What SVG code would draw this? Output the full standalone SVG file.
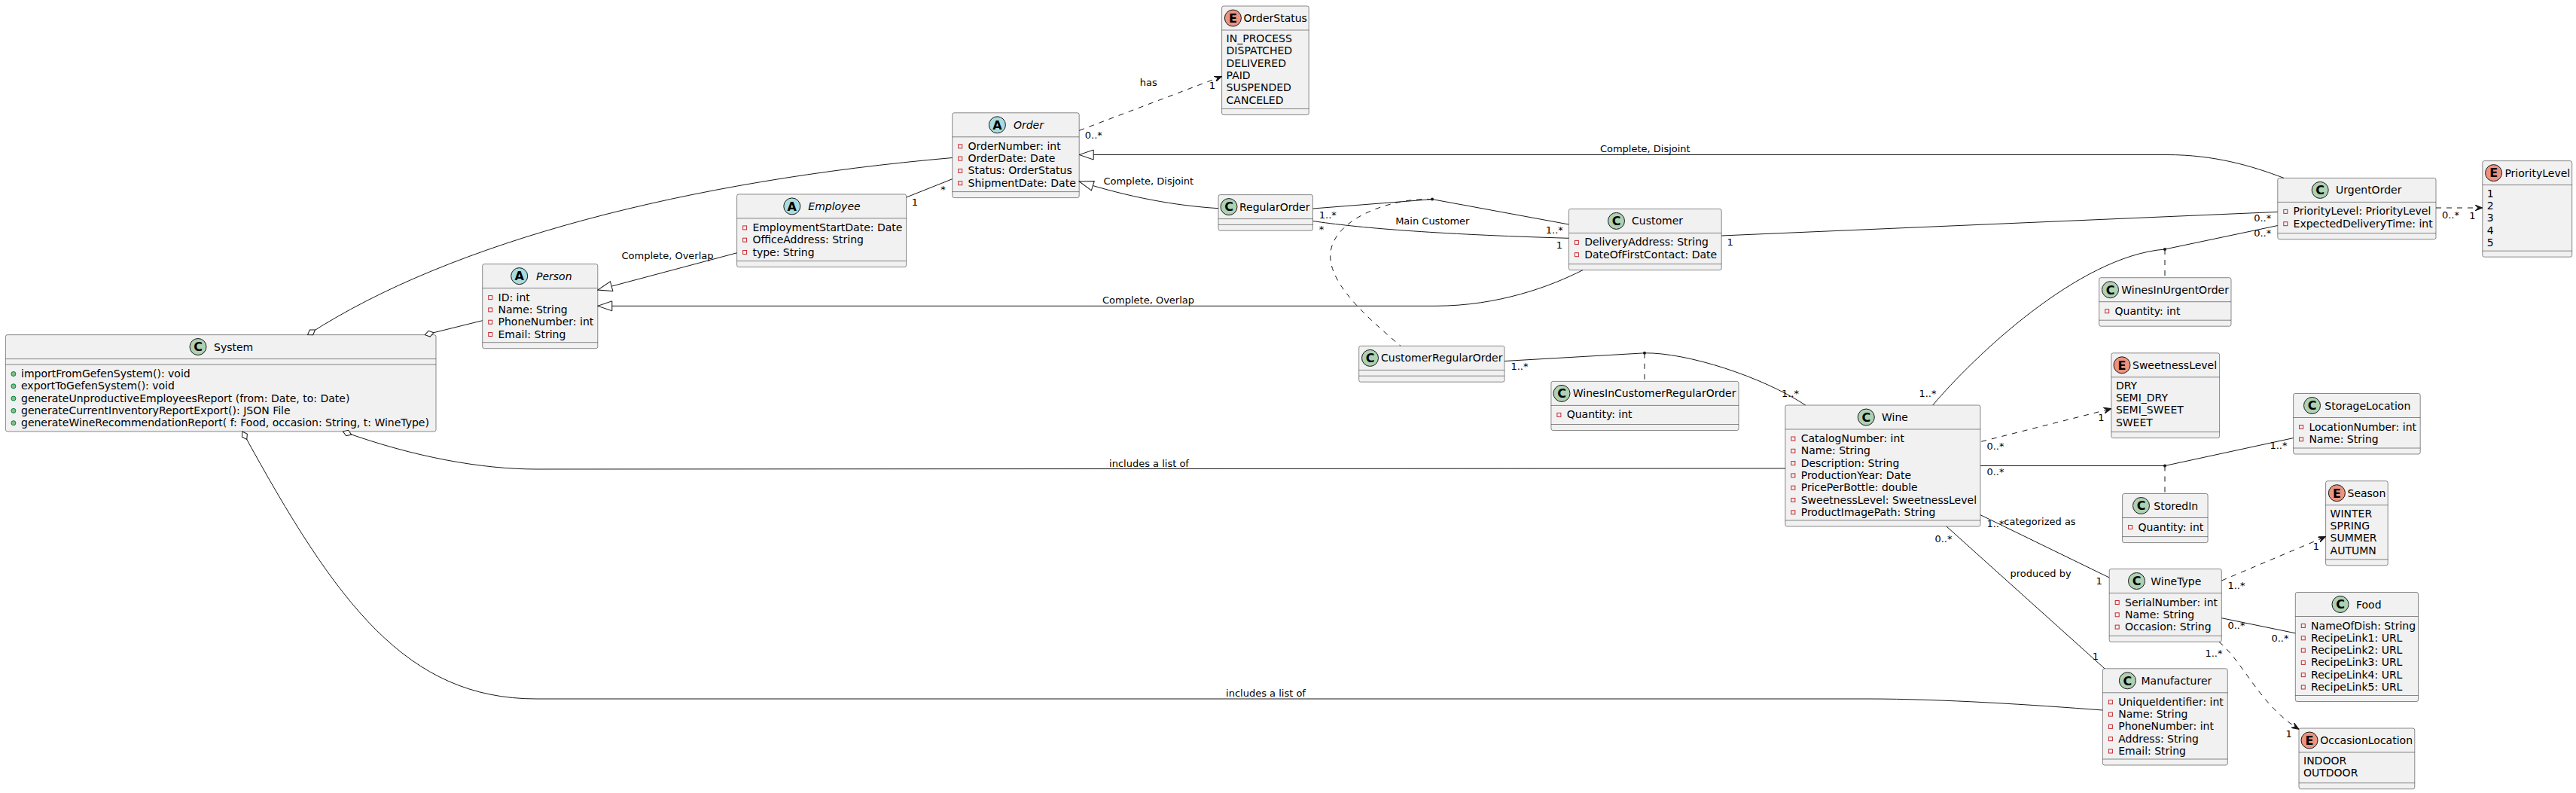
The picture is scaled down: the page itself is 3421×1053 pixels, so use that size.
<svg xmlns="http://www.w3.org/2000/svg" xmlns:xlink="http://www.w3.org/1999/xlink" width="3421" height="1053" viewBox="0 0 3421 1053">
<style>
.box{fill:#F1F1F1;stroke:#181818;stroke-width:0.5}
.sep{stroke:#181818;stroke-width:0.5}
.cC{fill:#ADD1B2;stroke:#181818;stroke-width:1}
.cA{fill:#A9DCDF;stroke:#181818;stroke-width:1}
.cE{fill:#EB937F;stroke:#181818;stroke-width:1}
.lt{font-family:"DejaVu Sans",sans-serif;font-size:16px;font-weight:bold;text-anchor:middle;fill:#000}
.t{font-family:"DejaVu Sans",sans-serif;font-size:14px;fill:#000}
.ti{font-style:italic}
.lb{font-family:"DejaVu Sans",sans-serif;font-size:13px;fill:#000;text-anchor:middle}
.pv{fill:none;stroke:#C82930;stroke-width:1}
.pb{fill:#84BE84;stroke:#038048;stroke-width:1}
.e{fill:none;stroke:#181818;stroke-width:1}
.d{stroke-dasharray:7,7}
.dot{fill:#181818}
</style>
<defs>
<rect id="pv" class="pv" width="5" height="5"/>
<circle id="pb" class="pb" r="3"/>
<marker id="arr" viewBox="0 0 10 8" refX="10" refY="4" markerWidth="10" markerHeight="8" markerUnits="userSpaceOnUse" orient="auto"><path d="M0,0 L10,4 L0,8 L4,4 Z" fill="#181818" stroke="#181818" stroke-width="1"/></marker>
<marker id="ext" viewBox="-1 -1 21 15" refX="19" refY="6.5" markerWidth="21" markerHeight="15" markerUnits="userSpaceOnUse" orient="auto"><path d="M0,0 L19,6.5 L0,13 Z" fill="#FFFFFF" stroke="#181818" stroke-width="1"/></marker>
<marker id="agg" viewBox="-1 -1 14 10" refX="0" refY="4" markerWidth="14" markerHeight="10" markerUnits="userSpaceOnUse" orient="auto"><path d="M0,4 L6,0 L12,4 L6,8 Z" fill="#FFFFFF" stroke="#181818" stroke-width="1"/></marker>
</defs>
<rect x="0" y="0" width="3421" height="1053" fill="#FFFFFF"/>

<g id="nodes">
<g id="System">
<rect class="box" x="7.4" y="444.6" width="571.6" height="128.4" rx="2.5"/>
<circle class="cC" cx="263" cy="460.5" r="11"/><text class="lt" x="263" y="466.3">C</text>
<text class="t" x="284" y="466">System</text>
<line class="sep" x1="7.4" y1="476.6" x2="579" y2="476.6"/>
<line class="sep" x1="7.4" y1="484.1" x2="579" y2="484.1"/>
<use href="#pb" x="17.9" y="496.5"/><text class="t" x="28" y="501">importFromGefenSystem(): void</text>
<use href="#pb" x="17.9" y="512.8"/><text class="t" x="28" y="517.3">exportToGefenSystem(): void</text>
<use href="#pb" x="17.9" y="529.1"/><text class="t" x="28" y="533.6">generateUnproductiveEmployeesReport (from: Date, to: Date)</text>
<use href="#pb" x="17.9" y="545.4"/><text class="t" x="28" y="549.9">generateCurrentInventoryReportExport(): JSON File</text>
<use href="#pb" x="17.9" y="561.7"/><text class="t" x="28" y="566.2">generateWineRecommendationReport( f: Food, occasion: String, t: WineType)</text>
</g>

<g id="Person">
<rect class="box" x="640.7" y="350.6" width="153.1" height="112.1" rx="2.5"/>
<circle class="cA" cx="689.7" cy="366.6" r="11"/><text class="lt" x="689.7" y="372.4">A</text>
<text class="t ti" x="712" y="371.6">Person</text>
<line class="sep" x1="640.7" y1="382.6" x2="793.8" y2="382.6"/>
<use href="#pv" x="648.7" y="392.6"/><text class="t" x="661.5" y="399.6">ID: int</text>
<use href="#pv" x="648.7" y="408.9"/><text class="t" x="661.5" y="415.9">Name: String</text>
<use href="#pv" x="648.7" y="425.2"/><text class="t" x="661.5" y="432.2">PhoneNumber: int</text>
<use href="#pv" x="648.7" y="441.5"/><text class="t" x="661.5" y="448.5">Email: String</text>
<line class="sep" x1="640.7" y1="454.7" x2="793.8" y2="454.7"/>
</g>

<g id="Employee">
<rect class="box" x="978.6" y="257.9" width="225" height="96.7" rx="2.5"/>
<circle class="cA" cx="1051.8" cy="273.9" r="11"/><text class="lt" x="1051.8" y="279.7">A</text>
<text class="t ti" x="1073.3" y="278.9">Employee</text>
<line class="sep" x1="978.6" y1="289.9" x2="1203.6" y2="289.9"/>
<use href="#pv" x="986.6" y="299.9"/><text class="t" x="999.4" y="306.9">EmploymentStartDate: Date</text>
<use href="#pv" x="986.6" y="316.2"/><text class="t" x="999.4" y="323.2">OfficeAddress: String</text>
<use href="#pv" x="986.6" y="332.5"/><text class="t" x="999.4" y="339.5">type: String</text>
<line class="sep" x1="978.6" y1="346.6" x2="1203.6" y2="346.6"/>
</g>

<g id="Order">
<rect class="box" x="1264.7" y="149.8" width="168.5" height="112.8" rx="2.5"/>
<circle class="cA" cx="1324.4" cy="165.8" r="11"/><text class="lt" x="1324.4" y="171.6">A</text>
<text class="t ti" x="1345.9" y="170.8">Order</text>
<line class="sep" x1="1264.7" y1="181.8" x2="1433.2" y2="181.8"/>
<use href="#pv" x="1272.7" y="191.8"/><text class="t" x="1285.5" y="198.8">OrderNumber: int</text>
<use href="#pv" x="1272.7" y="208.1"/><text class="t" x="1285.5" y="215.1">OrderDate: Date</text>
<use href="#pv" x="1272.7" y="224.4"/><text class="t" x="1285.5" y="231.4">Status: OrderStatus</text>
<use href="#pv" x="1272.7" y="240.7"/><text class="t" x="1285.5" y="247.7">ShipmentDate: Date</text>
<line class="sep" x1="1264.7" y1="254.6" x2="1433.2" y2="254.6"/>
</g>

<g id="OrderStatus">
<rect class="box" x="1622.6" y="8" width="115.6" height="144.5" rx="2.5"/>
<circle class="cE" cx="1637.4" cy="24" r="11"/><text class="lt" x="1637.4" y="29.8">E</text>
<text class="t" x="1651.5" y="29">OrderStatus</text>
<line class="sep" x1="1622.6" y1="40" x2="1738.2" y2="40"/>
<text class="t" x="1628.6" y="56">IN_PROCESS</text>
<text class="t" x="1628.6" y="72.3">DISPATCHED</text>
<text class="t" x="1628.6" y="88.6">DELIVERED</text>
<text class="t" x="1628.6" y="104.9">PAID</text>
<text class="t" x="1628.6" y="121.2">SUSPENDED</text>
<text class="t" x="1628.6" y="137.5">CANCELED</text>
<line class="sep" x1="1622.6" y1="144.5" x2="1738.2" y2="144.5"/>
</g>

<g id="RegularOrder">
<rect class="box" x="1618" y="258.6" width="125.5" height="47.6" rx="2.5"/>
<circle class="cC" cx="1632" cy="274.6" r="11"/><text class="lt" x="1632" y="280.4">C</text>
<text class="t" x="1646" y="279.6">RegularOrder</text>
<line class="sep" x1="1618" y1="290.6" x2="1743.5" y2="290.6"/>
<line class="sep" x1="1618" y1="298.4" x2="1743.5" y2="298.4"/>
</g>

<g id="CustomerRegularOrder">
<rect class="box" x="1804.7" y="459.4" width="193.3" height="47.8" rx="2.5"/>
<circle class="cC" cx="1819.5" cy="475.4" r="11"/><text class="lt" x="1819.5" y="481.2">C</text>
<text class="t" x="1834" y="480.4">CustomerRegularOrder</text>
<line class="sep" x1="1804.7" y1="491.4" x2="1998" y2="491.4"/>
<line class="sep" x1="1804.7" y1="499.2" x2="1998" y2="499.2"/>
</g>

<g id="Customer">
<rect class="box" x="2083.4" y="277.4" width="202.8" height="81.2" rx="2.5"/>
<circle class="cC" cx="2146.5" cy="293.4" r="11"/><text class="lt" x="2146.5" y="299.2">C</text>
<text class="t" x="2167" y="298.4">Customer</text>
<line class="sep" x1="2083.4" y1="309.4" x2="2286.2" y2="309.4"/>
<use href="#pv" x="2091.4" y="319.4"/><text class="t" x="2104.2" y="326.4">DeliveryAddress: String</text>
<use href="#pv" x="2091.4" y="335.7"/><text class="t" x="2104.2" y="342.7">DateOfFirstContact: Date</text>
<line class="sep" x1="2083.4" y1="350.6" x2="2286.2" y2="350.6"/>
</g>

<g id="WinesInCustomerRegularOrder">
<rect class="box" x="2059.9" y="506.4" width="249.1" height="65.1" rx="2.5"/>
<circle class="cC" cx="2074" cy="522.4" r="11"/><text class="lt" x="2074" y="528.2">C</text>
<text class="t" x="2088.8" y="527.4">WinesInCustomerRegularOrder</text>
<line class="sep" x1="2059.9" y1="538.4" x2="2309" y2="538.4"/>
<use href="#pv" x="2067.9" y="548.4"/><text class="t" x="2080.7" y="555.4">Quantity: int</text>
<line class="sep" x1="2059.9" y1="563.5" x2="2309" y2="563.5"/>
</g>

<g id="Wine">
<rect class="box" x="2370.9" y="538" width="259.1" height="161" rx="2.5"/>
<circle class="cC" cx="2478.3" cy="554" r="11"/><text class="lt" x="2478.3" y="559.8">C</text>
<text class="t" x="2499" y="559">Wine</text>
<line class="sep" x1="2370.9" y1="570" x2="2630" y2="570"/>
<use href="#pv" x="2378.9" y="580"/><text class="t" x="2391.7" y="587">CatalogNumber: int</text>
<use href="#pv" x="2378.9" y="596.3"/><text class="t" x="2391.7" y="603.3">Name: String</text>
<use href="#pv" x="2378.9" y="612.6"/><text class="t" x="2391.7" y="619.6">Description: String</text>
<use href="#pv" x="2378.9" y="628.9"/><text class="t" x="2391.7" y="635.9">ProductionYear: Date</text>
<use href="#pv" x="2378.9" y="645.2"/><text class="t" x="2391.7" y="652.2">PricePerBottle: double</text>
<use href="#pv" x="2378.9" y="661.5"/><text class="t" x="2391.7" y="668.5">SweetnessLevel: SweetnessLevel</text>
<use href="#pv" x="2378.9" y="677.8"/><text class="t" x="2391.7" y="684.8">ProductImagePath: String</text>
<line class="sep" x1="2370.9" y1="691" x2="2630" y2="691"/>
</g>

<g id="UrgentOrder">
<rect class="box" x="3024.8" y="236.4" width="210.2" height="81.3" rx="2.5"/>
<circle class="cC" cx="3081.2" cy="252.4" r="11"/><text class="lt" x="3081.2" y="258.2">C</text>
<text class="t" x="3102" y="257.4">UrgentOrder</text>
<line class="sep" x1="3024.8" y1="268.4" x2="3235" y2="268.4"/>
<use href="#pv" x="3032.8" y="278.4"/><text class="t" x="3045.6" y="285.4">PriorityLevel: PriorityLevel</text>
<use href="#pv" x="3032.8" y="294.7"/><text class="t" x="3045.6" y="301.7">ExpectedDeliveryTime: int</text>
<line class="sep" x1="3024.8" y1="309.7" x2="3235" y2="309.7"/>
</g>

<g id="PriorityLevel">
<rect class="box" x="3296.8" y="213.6" width="118.9" height="127.6" rx="2.5"/>
<circle class="cE" cx="3311.6" cy="229.6" r="11"/><text class="lt" x="3311.6" y="235.4">E</text>
<text class="t" x="3326.4" y="234.6">PriorityLevel</text>
<line class="sep" x1="3296.8" y1="245.6" x2="3415.7" y2="245.6"/>
<text class="t" x="3302.8" y="261.6">1</text>
<text class="t" x="3302.8" y="277.9">2</text>
<text class="t" x="3302.8" y="294.2">3</text>
<text class="t" x="3302.8" y="310.5">4</text>
<text class="t" x="3302.8" y="326.8">5</text>
<line class="sep" x1="3296.8" y1="333.2" x2="3415.7" y2="333.2"/>
</g>

<g id="WinesInUrgentOrder">
<rect class="box" x="2787.7" y="368.7" width="175.3" height="64.5" rx="2.5"/>
<circle class="cC" cx="2802.5" cy="384.7" r="11"/><text class="lt" x="2802.5" y="390.5">C</text>
<text class="t" x="2817.3" y="389.7">WinesInUrgentOrder</text>
<line class="sep" x1="2787.7" y1="400.7" x2="2963" y2="400.7"/>
<use href="#pv" x="2795.7" y="410.7"/><text class="t" x="2808.5" y="417.7">Quantity: int</text>
<line class="sep" x1="2787.7" y1="425.2" x2="2963" y2="425.2"/>
</g>

<g id="SweetnessLevel">
<rect class="box" x="2803.9" y="468.8" width="143.7" height="112.8" rx="2.5"/>
<circle class="cE" cx="2818" cy="484.8" r="11"/><text class="lt" x="2818" y="490.6">E</text>
<text class="t" x="2832" y="489.8">SweetnessLevel</text>
<line class="sep" x1="2803.9" y1="500.8" x2="2947.6" y2="500.8"/>
<text class="t" x="2809.9" y="516.8">DRY</text>
<text class="t" x="2809.9" y="533.1">SEMI_DRY</text>
<text class="t" x="2809.9" y="549.4">SEMI_SWEET</text>
<text class="t" x="2809.9" y="565.7">SWEET</text>
<line class="sep" x1="2803.9" y1="573.6" x2="2947.6" y2="573.6"/>
</g>

<g id="StorageLocation">
<rect class="box" x="3045.6" y="522.5" width="168.6" height="80.5" rx="2.5"/>
<circle class="cC" cx="3070.5" cy="538.5" r="11"/><text class="lt" x="3070.5" y="544.3">C</text>
<text class="t" x="3087.3" y="543.5">StorageLocation</text>
<line class="sep" x1="3045.6" y1="554.5" x2="3214.2" y2="554.5"/>
<use href="#pv" x="3053.6" y="564.5"/><text class="t" x="3066.4" y="571.5">LocationNumber: int</text>
<use href="#pv" x="3053.6" y="580.8"/><text class="t" x="3066.4" y="587.8">Name: String</text>
<line class="sep" x1="3045.6" y1="595" x2="3214.2" y2="595"/>
</g>

<g id="StoredIn">
<rect class="box" x="2818.6" y="655.5" width="113.5" height="65.1" rx="2.5"/>
<circle class="cC" cx="2843.5" cy="671.5" r="11"/><text class="lt" x="2843.5" y="677.3">C</text>
<text class="t" x="2860.3" y="676.5">StoredIn</text>
<line class="sep" x1="2818.6" y1="687.5" x2="2932.1" y2="687.5"/>
<use href="#pv" x="2826.6" y="697.5"/><text class="t" x="2839.4" y="704.5">Quantity: int</text>
<line class="sep" x1="2818.6" y1="712.6" x2="2932.1" y2="712.6"/>
</g>

<g id="Season">
<rect class="box" x="3088.6" y="638.7" width="82.6" height="112.1" rx="2.5"/>
<circle class="cE" cx="3103.4" cy="654.7" r="11"/><text class="lt" x="3103.4" y="660.5">E</text>
<text class="t" x="3117.5" y="659.7">Season</text>
<line class="sep" x1="3088.6" y1="670.7" x2="3171.2" y2="670.7"/>
<text class="t" x="3094.6" y="686.7">WINTER</text>
<text class="t" x="3094.6" y="703">SPRING</text>
<text class="t" x="3094.6" y="719.3">SUMMER</text>
<text class="t" x="3094.6" y="735.6">AUTUMN</text>
<line class="sep" x1="3088.6" y1="742.8" x2="3171.2" y2="742.8"/>
</g>

<g id="WineType">
<rect class="box" x="2801.2" y="755.5" width="149.1" height="96.8" rx="2.5"/>
<circle class="cC" cx="2837.5" cy="771.5" r="11"/><text class="lt" x="2837.5" y="777.3">C</text>
<text class="t" x="2856.3" y="776.5">WineType</text>
<line class="sep" x1="2801.2" y1="787.5" x2="2950.3" y2="787.5"/>
<use href="#pv" x="2809.2" y="797.5"/><text class="t" x="2822" y="804.5">SerialNumber: int</text>
<use href="#pv" x="2809.2" y="813.8"/><text class="t" x="2822" y="820.8">Name: String</text>
<use href="#pv" x="2809.2" y="830.1"/><text class="t" x="2822" y="837.1">Occasion: String</text>
<line class="sep" x1="2801.2" y1="844.3" x2="2950.3" y2="844.3"/>
</g>

<g id="Food">
<rect class="box" x="3048.3" y="786.5" width="163.2" height="145" rx="2.5"/>
<circle class="cC" cx="3108" cy="802.5" r="11"/><text class="lt" x="3108" y="808.3">C</text>
<text class="t" x="3129" y="807.5">Food</text>
<line class="sep" x1="3048.3" y1="818.5" x2="3211.5" y2="818.5"/>
<use href="#pv" x="3056.3" y="828.5"/><text class="t" x="3069.1" y="835.5">NameOfDish: String</text>
<use href="#pv" x="3056.3" y="844.8"/><text class="t" x="3069.1" y="851.8">RecipeLink1: URL</text>
<use href="#pv" x="3056.3" y="861.1"/><text class="t" x="3069.1" y="868.1">RecipeLink2: URL</text>
<use href="#pv" x="3056.3" y="877.4"/><text class="t" x="3069.1" y="884.4">RecipeLink3: URL</text>
<use href="#pv" x="3056.3" y="893.7"/><text class="t" x="3069.1" y="900.7">RecipeLink4: URL</text>
<use href="#pv" x="3056.3" y="910"/><text class="t" x="3069.1" y="917">RecipeLink5: URL</text>
<line class="sep" x1="3048.3" y1="923.5" x2="3211.5" y2="923.5"/>
</g>

<g id="Manufacturer">
<rect class="box" x="2792.4" y="887.8" width="165.9" height="128.2" rx="2.5"/>
<circle class="cC" cx="2825.4" cy="903.8" r="11"/><text class="lt" x="2825.4" y="909.6">C</text>
<text class="t" x="2843.5" y="908.8">Manufacturer</text>
<line class="sep" x1="2792.4" y1="919.8" x2="2958.3" y2="919.8"/>
<use href="#pv" x="2800.4" y="929.8"/><text class="t" x="2813.2" y="936.8">UniqueIdentifier: int</text>
<use href="#pv" x="2800.4" y="946.1"/><text class="t" x="2813.2" y="953.1">Name: String</text>
<use href="#pv" x="2800.4" y="962.4"/><text class="t" x="2813.2" y="969.4">PhoneNumber: int</text>
<use href="#pv" x="2800.4" y="978.7"/><text class="t" x="2813.2" y="985.7">Address: String</text>
<use href="#pv" x="2800.4" y="995"/><text class="t" x="2813.2" y="1002">Email: String</text>
<line class="sep" x1="2792.4" y1="1008" x2="2958.3" y2="1008"/>
</g>

<g id="OccasionLocation">
<rect class="box" x="3053" y="967" width="153.8" height="80.7" rx="2.5"/>
<circle class="cE" cx="3067" cy="983" r="11"/><text class="lt" x="3067" y="988.8">E</text>
<text class="t" x="3081.2" y="988">OccasionLocation</text>
<line class="sep" x1="3053" y1="999" x2="3206.8" y2="999"/>
<text class="t" x="3059" y="1015">INDOOR</text>
<text class="t" x="3059" y="1031.3">OUTDOOR</text>
<line class="sep" x1="3053" y1="1039.7" x2="3206.8" y2="1039.7"/>
</g>
</g>

<g id="edges">
<!-- System aggregations -->
<path class="e" d="M408.5,444.6 C600,320 915,240 1264.7,209.5" marker-start="url(#agg)"/>
<path class="e" d="M564.3,444.6 L640.7,425.7" marker-start="url(#agg)"/>
<path class="e" d="M455.5,573 C549.5,607 640,623 712,623 L2370.9,622" marker-start="url(#agg)"/>
<text class="lb" x="1526" y="619.7">includes a list of</text>
<path class="e" d="M322,573 C447,802 540,928 712,928 L2480,928 C2580,928 2700,936 2792.4,943" marker-start="url(#agg)"/>
<text class="lb" x="1681" y="924.7">includes a list of</text>

<!-- Generalizations -->
<path class="e" d="M978.6,335.8 L793.8,385" marker-end="url(#ext)"/>
<text class="lb" x="886.5" y="343.7">Complete, Overlap</text>
<path class="e" d="M2102,358.6 C2060,380 1990,406.3 1906,406.3 L793.8,406.3" marker-end="url(#ext)"/>
<text class="lb" x="1525" y="403">Complete, Overlap</text>
<path class="e" d="M1618,276.7 C1560,273 1500,262 1433.2,241" marker-end="url(#ext)"/>
<text class="lb" x="1525.3" y="245">Complete, Disjoint</text>
<path class="e" d="M3033,236.4 C2990,220 2940,205.5 2878,205.5 L1433.2,205.5" marker-end="url(#ext)"/>
<text class="lb" x="2184.8" y="201.5">Complete, Disjoint</text>

<!-- Employee - Order -->
<path class="e" d="M1203.6,262 L1264.7,237.7"/>
<text class="lb" x="1215" y="272.7">1</text>
<text class="lb" x="1252.6" y="255.5">*</text>

<!-- Order -> OrderStatus -->
<path class="e d" d="M1433.2,173.3 L1622.6,101.4" marker-end="url(#arr)"/>
<text class="lb" x="1525.3" y="114">has</text>
<text class="lb" x="1452.3" y="183.7">0..*</text>
<text class="lb" x="1610" y="118">1</text>

<!-- RegularOrder - Customer (assoc class CustomerRegularOrder) -->
<path class="e" d="M1743.5,277 L1902,264.6 L2083.4,298"/>
<circle class="dot" cx="1902" cy="264.6" r="2"/>
<path class="e d" d="M1902,264.6 C1850,262 1767,290 1766.7,340 C1766.7,380 1820,425 1860,459.4"/>
<text class="lb" x="1763.3" y="289.7">1..*</text>
<text class="lb" x="2064.3" y="310.4">1..*</text>

<!-- RegularOrder - Customer (Main Customer) -->
<path class="e" d="M1743.5,293.5 C1800,302 1900,311 2083.4,316.3"/>
<text class="lb" x="1902.3" y="298">Main Customer</text>
<text class="lb" x="1755" y="308.7">*</text>
<text class="lb" x="2071" y="329.7">1</text>

<!-- Customer - UrgentOrder -->
<path class="e" d="M2286.2,313 L3024.8,281.4"/>
<text class="lb" x="2297.6" y="326.4">1</text>
<text class="lb" x="3004.7" y="294.2">0..*</text>

<!-- Wine - UrgentOrder (assoc class WinesInUrgentOrder) -->
<path class="e" d="M2566.8,538 C2620,475 2760,340 2875,331 L3024.8,299.5"/>
<circle class="dot" cx="2875" cy="331" r="2"/>
<path class="e d" d="M2875,331 L2875,368.7"/>
<text class="lb" x="2560" y="527.2">1..*</text>
<text class="lb" x="3004.7" y="314.3">0..*</text>

<!-- CustomerRegularOrder - Wine (assoc class WinesInCustomerRegularOrder) -->
<path class="e" d="M1998,479.5 L2184,468.8 C2240,468 2340,500 2397.7,538"/>
<circle class="dot" cx="2184" cy="468.8" r="2"/>
<path class="e d" d="M2184,468.8 L2184,506.4"/>
<text class="lb" x="2018" y="490.7">1..*</text>
<text class="lb" x="2377.6" y="527.2">1..*</text>

<!-- Wine -> SweetnessLevel -->
<path class="e d" d="M2631.3,586.3 L2803.9,542.7" marker-end="url(#arr)"/>
<text class="lb" x="2650" y="597">0..*</text>
<text class="lb" x="2790.4" y="558.7">1</text>

<!-- Wine - StorageLocation (assoc class StoredIn) -->
<path class="e" d="M2630,618.5 L2875,618.5 L3045.6,581.6"/>
<circle class="dot" cx="2875" cy="618.5" r="2"/>
<path class="e d" d="M2875,618.5 L2875,655.5"/>
<text class="lb" x="2650" y="631.3">0..*</text>
<text class="lb" x="3026" y="595.7">1..*</text>

<!-- Wine - WineType -->
<path class="e" d="M2630,683.7 L2801.2,767"/>
<text class="lb" x="2650" y="699.7">1..*</text>
<text class="lb" x="2709" y="697.1">categorized as</text>
<text class="lb" x="2787.7" y="775.7">1</text>

<!-- Wine - Manufacturer -->
<path class="e" d="M2585,699 L2795,887.8"/>
<text class="lb" x="2710" y="766.3">produced by</text>
<text class="lb" x="2581" y="720">0..*</text>
<text class="lb" x="2783" y="876.4">1</text>

<!-- WineType -> Season -->
<path class="e d" d="M2950.3,771 L3088.6,712.6" marker-end="url(#arr)"/>
<text class="lb" x="2970" y="782.4">1..*</text>
<text class="lb" x="3076" y="730">1</text>

<!-- WineType - Food -->
<path class="e" d="M2950.3,820.7 L3048.3,840.8"/>
<text class="lb" x="2970" y="834.7">0..*</text>
<text class="lb" x="3028" y="852.3">0..*</text>

<!-- WineType -> OccasionLocation -->
<path class="e d" d="M2947,852.3 C2980,880 3000,935 3053,968.4" marker-end="url(#arr)"/>
<text class="lb" x="2940" y="872.4">1..*</text>
<text class="lb" x="3039.6" y="978.5">1</text>

<!-- UrgentOrder -> PriorityLevel -->
<path class="e d" d="M3235,276 L3296.8,276" marker-end="url(#arr)"/>
<text class="lb" x="3254.5" y="289.5">0..*</text>
<text class="lb" x="3283.4" y="290.7">1</text>
</g>
</svg>
